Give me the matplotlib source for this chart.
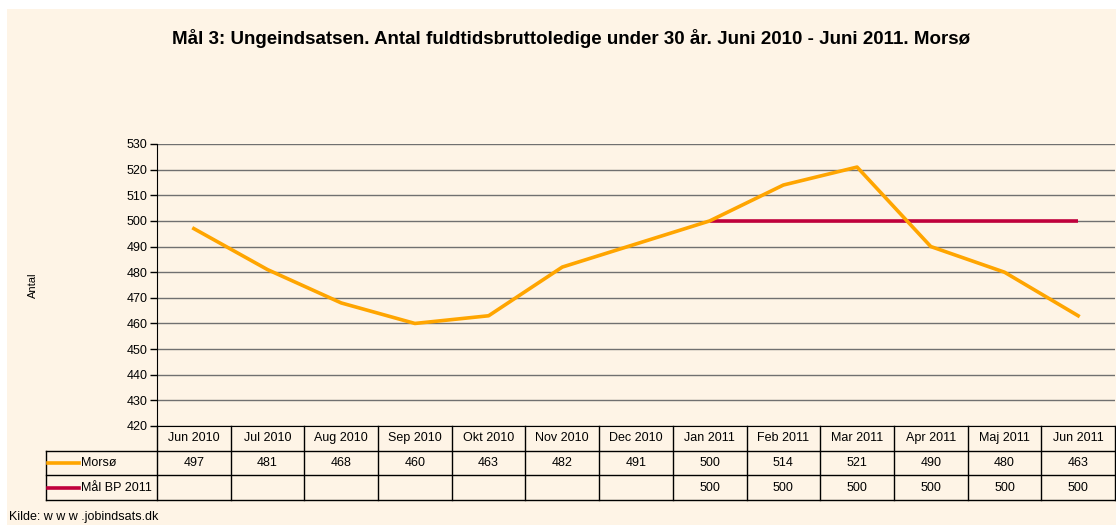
import matplotlib.pyplot as plt
from matplotlib.patches import Rectangle

plt.rcParams['font.family'] = ['Liberation Sans', 'DejaVu Sans']

# data
months = ['Jun 2010', 'Jul 2010', 'Aug 2010', 'Sep 2010', 'Okt 2010', 'Nov 2010', 'Dec 2010',
          'Jan 2011', 'Feb 2011', 'Mar 2011', 'Apr 2011', 'Maj 2011', 'Jun 2011']
morso = [497, 481, 468, 460, 463, 482, 491, 500, 514, 521, 490, 480, 463]
maal = [None, None, None, None, None, None, None, 500, 500, 500, 500, 500, 500]
series_names = ['Morsø', 'Mål BP 2011']

title = 'Mål 3: Ungeindsatsen. Antal fuldtidsbruttoledige under 30 år. Juni 2010 - Juni 2011. Morsø'
bg = '#FEF4E6'
orange = '#FFA500'
red = '#C0003C'

W, H = 1116, 525
fig = plt.figure(figsize=(W / 100, H / 100), dpi=100)
fig.patch.set_facecolor('white')
fig.patches.append(Rectangle((7 / W, 0), 1, 1 - 9 / H, transform=fig.transFigure,
                             facecolor=bg, edgecolor='none', zorder=-5))

# plot area in pixels
px_left, px_right, px_top, px_bot = 157, 1115, 144, 426
ax = fig.add_axes([px_left / W, 1 - px_bot / H, (px_right - px_left) / W, (px_bot - px_top) / H])
ax.set_facecolor('none')
x = list(range(len(months)))
ax.set_xlim(-0.5, len(months) - 0.5)
ax.set_ylim(420, 530)
ax.set_yticks(range(420, 531, 10))
ax.yaxis.grid(True, color='#707070', linewidth=1)
ax.set_axisbelow(True)
ax.set_xticks([])
for s in ['top', 'right']:
    ax.spines[s].set_visible(False)
ax.spines['left'].set_color('black')
ax.spines['bottom'].set_color('black')
ax.tick_params(axis='y', labelsize=9, length=5, width=1, pad=2)

mx = [i for i, v in enumerate(maal) if v is not None]
my = [v for v in maal if v is not None]
ax.plot(mx, my, color=red, linewidth=2.6, solid_capstyle='butt', zorder=3)
ax.plot(x, morso, color=orange, linewidth=2.6, zorder=4)

fig.text(33 / W, 1 - 285 / H, 'Antal', rotation=90, fontsize=8, ha='center', va='center')
fig.text(571 / W, 1 - 39 / H, title, fontsize=13.5, fontweight='bold', ha='center', va='center')
fig.text(9 / W, 1 - 517 / H, 'Kilde: w w w .jobindsats.dk', fontsize=9, ha='left', va='center')

# data table below the plot
tb_left, tb_bot = 46, 500
unit = (px_right - px_left) / len(months)
lab_w = (px_left - tb_left) / unit
tax = fig.add_axes([tb_left / W, 1 - tb_bot / H, (px_right - tb_left) / W, (tb_bot - px_bot) / H])
tax.set_xlim(-0.5 - lab_w, len(months) - 0.5)
tax.set_ylim(0, 3)
tax.axis('off')
lkw = dict(color='black', linewidth=1, clip_on=False)
x0 = -0.5 - lab_w
for yy in [0, 1, 2]:
    tax.plot([x0, len(months) - 0.5], [yy, yy], **lkw)
tax.plot([x0, x0], [0, 2], **lkw)
for k in range(len(months) + 1):
    tax.plot([k - 0.5, k - 0.5], [0, 3], **lkw)
for i, m in enumerate(months):
    tax.text(i, 2.5, m, fontsize=9, ha='center', va='center')
    tax.text(i, 1.5, str(morso[i]), fontsize=9, ha='center', va='center')
    if maal[i] is not None:
        tax.text(i, 0.5, str(maal[i]), fontsize=9, ha='center', va='center')
for row, name, col in [(1.5, series_names[0], orange), (0.5, series_names[1], red)]:
    tax.plot([x0 + 0.03, x0 + 0.45], [row, row], color=col, linewidth=2.6, clip_on=False)
    tax.text(x0 + 0.47, row, name, fontsize=9, ha='left', va='center')

fig.savefig('out.png', dpi=100, facecolor=fig.get_facecolor())
